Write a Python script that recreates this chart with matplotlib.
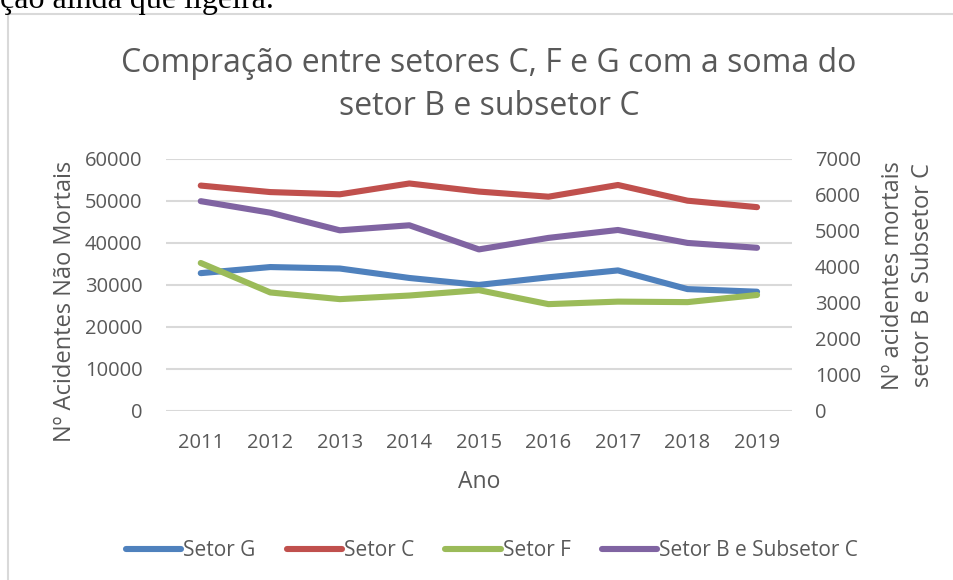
import numpy as np
import matplotlib.pyplot as plt
from matplotlib.lines import Line2D

# Data
anos = ['2011', '2012', '2013', '2014', '2015', '2016', '2017', '2018', '2019']
setor_g = [32750, 34200, 33850, 31600, 29950, 31760, 33400, 28950, 28330]
setor_c = [53600, 52050, 51520, 54100, 52170, 50950, 53740, 50000, 48460]
setor_f = [35170, 28150, 26560, 27420, 28700, 25370, 25970, 25850, 27550]
setor_b_sub_c = [5820, 5500, 5010, 5150, 4480, 4800, 5020, 4660, 4525]

cor_texto = '#595959'
cor_grelha = '#D9D9D9'
cores = {'G': '#4F81BD', 'C': '#C0504D', 'F': '#9BBB59', 'B': '#8064A2'}
fonte = 'Open Sans'

plt.rcParams['font.family'] = [fonte, 'DejaVu Sans']

fig = plt.figure(figsize=(9.54, 5.8), dpi=100)

# Text of the document above the chart (cut off at the top)
fig.text(0.0, 1 - 8 / 580, 'ção ainda que ligeira.', fontsize=23,
         family=['Liberation Serif'], color='black', va='baseline', ha='left')

# Chart area border (only top and left visible)
fig.add_artist(Line2D([8.5 / 954, 1.0], [1 - 14 / 580, 1 - 14 / 580],
                      transform=fig.transFigure, color=cor_grelha, lw=1.5))
fig.add_artist(Line2D([8.5 / 954, 8.5 / 954], [0.0, 1 - 14 / 580],
                      transform=fig.transFigure, color=cor_grelha, lw=1.5))

ax = fig.add_axes([0.174, 0.2919, 0.656, 0.4345])
ax2 = ax.twinx()

x = np.arange(len(anos))
lw = 4.4
ax.plot(x, setor_g, color=cores['G'], lw=lw, solid_capstyle='round', solid_joinstyle='round', label='Setor G')
ax.plot(x, setor_c, color=cores['C'], lw=lw, solid_capstyle='round', solid_joinstyle='round', label='Setor C')
ax.plot(x, setor_f, color=cores['F'], lw=lw, solid_capstyle='round', solid_joinstyle='round', label='Setor F')
ax2.plot(x, setor_b_sub_c, color=cores['B'], lw=lw, solid_capstyle='round', solid_joinstyle='round',
         label='Setor B e Subsetor C')

ax.set_xlim(-0.5, len(anos) - 0.5)
ax.set_ylim(0, 60000)
ax.set_yticks(np.arange(0, 60001, 10000))
ax2.set_ylim(0, 7000)
ax2.set_yticks(np.arange(0, 7001, 1000))
ax.set_xticks(x)
ax.set_xticklabels(anos)

ax.yaxis.grid(True, color=cor_grelha, lw=1.5)
ax.set_axisbelow(True)
for a in (ax, ax2):
    for s in a.spines.values():
        s.set_visible(False)
    a.tick_params(length=0, colors=cor_texto, labelsize=14.5)
ax.tick_params(axis='y', pad=17)
ax.tick_params(axis='x', pad=16)
ax2.tick_params(axis='y', pad=16.5)

ax.set_xlabel('Ano', fontsize=16.5, color=cor_texto, labelpad=12)
ax.set_ylabel('Nº Acidentes Não Mortais', fontsize=17, color=cor_texto)
ax.yaxis.set_label_coords(-0.142, 0.432)
ax2.set_ylabel('Nº acidentes mortais\nsetor B e Subsetor C', fontsize=17, color=cor_texto,
               linespacing=1.3)
ax2.yaxis.set_label_coords(1.143, 0.538)

fig.text(489 / 954, 1 - 85 / 580, 'Compração entre setores C, F e G com a soma do\nsetor B e subsetor C',
         ha='center', va='center', fontsize=23, color=cor_texto, linespacing=1.42)

handles = ax.get_lines() + ax2.get_lines()
fig.legend(handles, [h.get_label() for h in handles], loc='center', bbox_to_anchor=(492 / 954, 1 - 551 / 580),
           ncol=4, frameon=False, fontsize=15, labelcolor=cor_texto, handlelength=2.65,
           handletextpad=0.1, columnspacing=1.5)

fig.savefig('out.png', dpi=100)
